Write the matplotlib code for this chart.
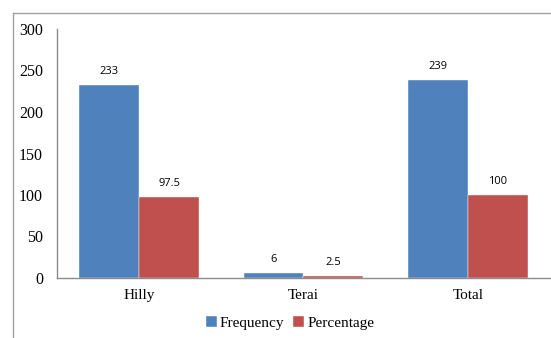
import numpy as np
import matplotlib.pyplot as plt
from matplotlib.lines import Line2D

# ---- Data ----
regions = ["Hilly", "Terai", "Total"]
frequency = [233, 6, 239]
percentage = [97.5, 2.5, 100]
freq_labels = ["233", "6", "239"]
pct_labels = ["97.5", "2.5", "100"]

BLUE = "#4F81BD"
RED = "#C0504D"
GRAY = "#8C8C8C"

fig = plt.figure(figsize=(5.51, 3.38), dpi=100)
ax = fig.add_axes([57 / 551, 60 / 338, 493 / 551, 249 / 338])

x = np.arange(len(regions))
width = 0.364
b1 = ax.bar(x - width / 2, frequency, width, color=BLUE, edgecolor="white", linewidth=0.3, label="Frequency")
b2 = ax.bar(x + width / 2, percentage, width, color=RED, edgecolor="white", linewidth=0.3, label="Percentage")

for bars, labels in ((b1, freq_labels), (b2, pct_labels)):
    for bar, text in zip(bars, labels):
        ax.annotate(text, (bar.get_x() + bar.get_width() / 2, bar.get_height()),
                    xytext=(0, 5.5), textcoords="offset points", ha="center", va="bottom",
                    fontsize=8, family="Open Sans")

ax.set_xlim(-0.5, 2.5)
ax.set_ylim(0, 300)
ax.set_yticks(range(0, 301, 50))
ax.set_xticks(x)
ax.set_xticklabels(regions, family="Liberation Serif", fontsize=11)
for lbl in ax.get_yticklabels():
    lbl.set_family("Liberation Serif")
    lbl.set_fontsize(11.5)
ax.tick_params(axis="x", length=0, pad=8)
ax.tick_params(axis="y", length=0, pad=10)

for side in ("top", "right"):
    ax.spines[side].set_visible(False)
for side in ("left", "bottom"):
    ax.spines[side].set_color(GRAY)
    ax.spines[side].set_linewidth(1)

leg = fig.legend(handles=[b1, b2], loc="center", bbox_to_anchor=(290 / 551, 1 - 323 / 338),
                 ncol=2, frameon=False, handlelength=0.7, handleheight=0.7, handletextpad=0.2,
                 columnspacing=0.6, prop={"family": "Liberation Serif", "size": 11})

# chart frame
fy = 1 - 13 / 338
fx = 13 / 551
fig.add_artist(Line2D([fx, fx], [0, fy], color="#A0A0A0", linewidth=1, transform=fig.transFigure))
fig.add_artist(Line2D([fx, 1], [fy, fy], color="#A0A0A0", linewidth=1, transform=fig.transFigure))

fig.savefig("out.png", dpi=100)
